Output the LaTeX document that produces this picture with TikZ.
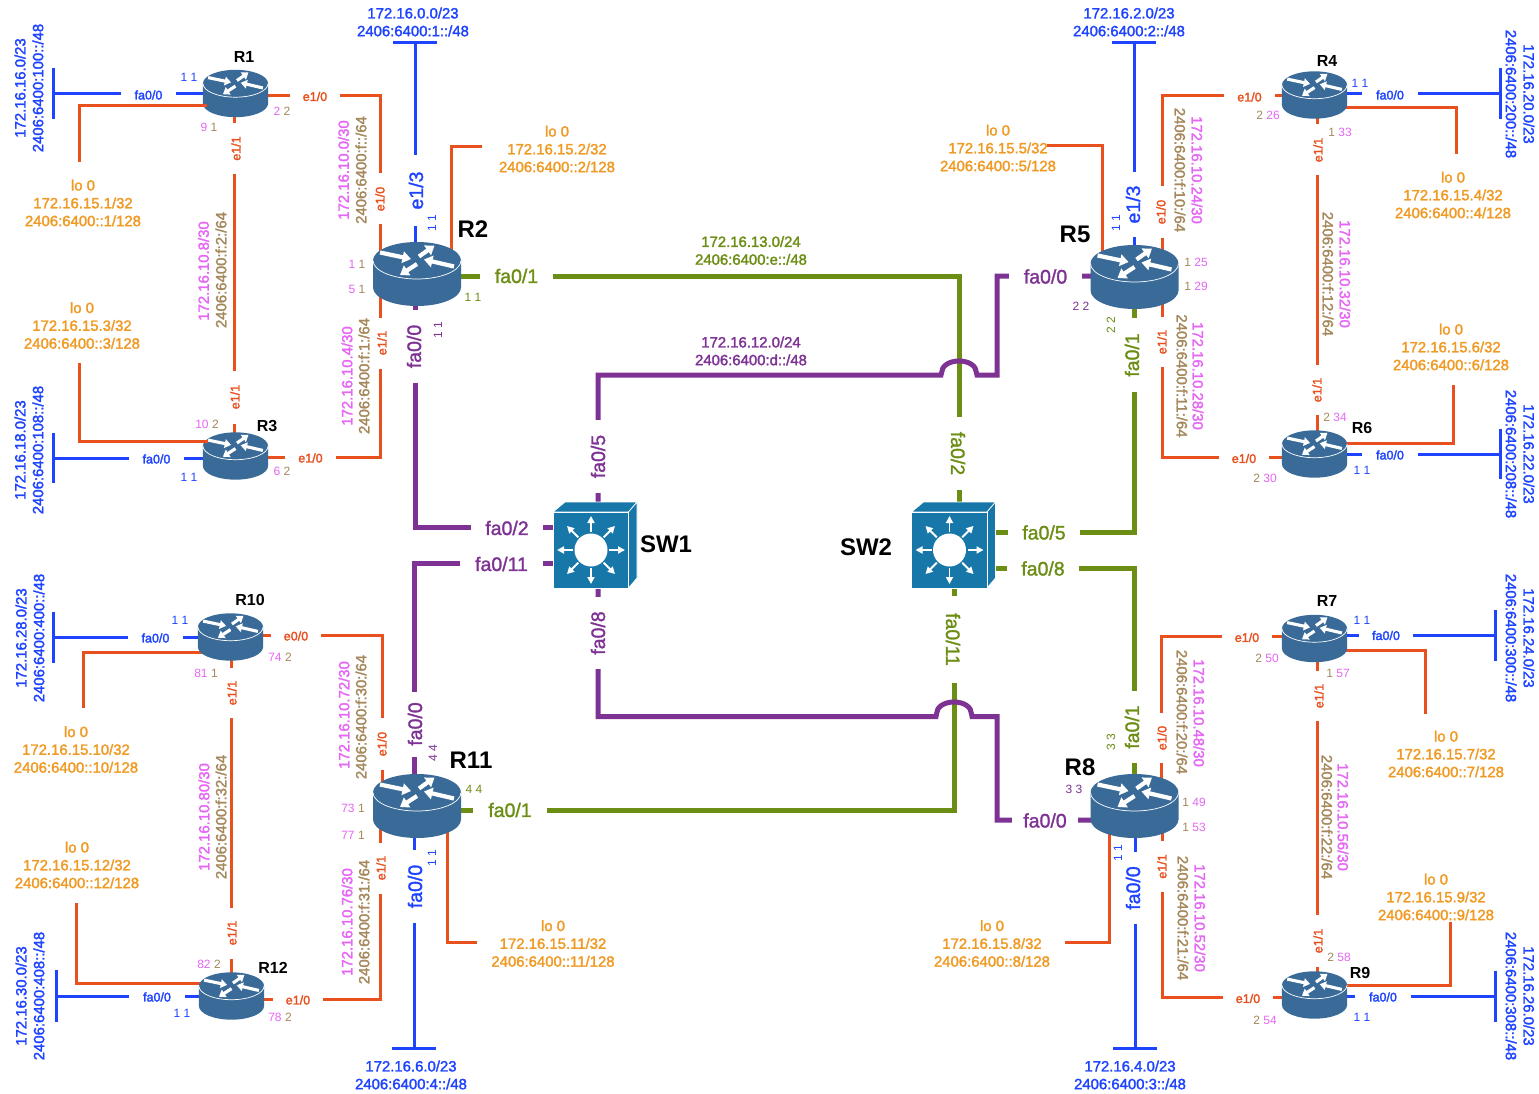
\documentclass[tikz,border=0pt]{standalone}
\usepackage{fontspec}
\usetikzlibrary{arrows.meta}
\setmainfont{Liberation Sans}
\newcommand{\medf}{\special{pdf:code 2 Tr 0.28 w}}
\definecolor{cOr}{HTML}{E8501E}
\definecolor{cLo}{HTML}{F09A24}
\definecolor{cBl}{HTML}{1E44FF}
\definecolor{cGr}{HTML}{6C8E14}
\definecolor{cPu}{HTML}{7D3294}
\definecolor{cPk}{HTML}{E667F5}
\definecolor{cBr}{HTML}{A5885C}
\definecolor{cRt}{HTML}{3A6B98}
\definecolor{cSw}{HTML}{1777A8}
\newcounter{nn}
\newcommand{\pk}[1]{\textcolor{cPk}{#1}}
\newcommand{\br}[1]{\textcolor{cBr}{#1}}
\newcommand{\Tx}[3][]{\stepcounter{nn}\node[txt,#1] (t\arabic{nn}) at (#2) {#3};}
\newcommand{\Nm}[3][]{\stepcounter{nn}\node[num,#1] (t\arabic{nn}) at (#2) {#3};}
\newcommand{\Gp}[4][]{\stepcounter{nn}\node[gapsmall,minimum width=#3pt,#1] (t\arabic{nn}) at (#2) {#4};}
\newcommand{\Hd}[3][]{\stepcounter{nn}\node[headsmall,#1] (t\arabic{nn}) at (#2) {#3};}
\tikzset{
  txt/.style={inner sep=0pt,align=center,font=\medf\fontsize{14.9}{17.8}\selectfont},
  num/.style={inner sep=0pt,font=\fontsize{12}{13}\selectfont},
  gapsmall/.style={inner sep=0pt,fill=white,minimum height=11pt,font=\medf\fontsize{12.5}{15}\selectfont},
  gapbig/.style={minimum height=15pt,font=\medf\fontsize{19.5}{22}\selectfont},
  headsmall/.style={inner sep=0pt,font=\bfseries\fontsize{16}{18}\selectfont},
  headbig/.style={font=\bfseries\fontsize{24}{26}\selectfont},
  eth/.style={draw=cOr,line width=3pt},
  lan/.style={draw=cBl,line width=3pt},
  gtrunk/.style={draw=cGr,line width=5pt},
  ptrunk/.style={draw=cPu,line width=5pt},
  routerbox/.style={inner sep=0pt,minimum width=65pt,minimum height=47pt},
  bigrouterbox/.style={inner sep=0pt,minimum width=88pt,minimum height=64pt},
  switchbox/.style={inner sep=0pt,minimum width=76pt,minimum height=76pt},
}
\begin{document}
\begin{tikzpicture}[x=1pt,y=-1pt]
\path[use as bounding box,fill=white] (0,0) rectangle (1539,1094);
% devices
\node[routerbox] (R1) at (235.5,93.5) {};
\node[bigrouterbox] (R2) at (417,274) {};
\node[routerbox] (R3) at (235.5,456) {};
\node[routerbox] (R4) at (1314.5,95) {};
\node[bigrouterbox] (R5) at (1134.5,277) {};
\node[routerbox] (R6) at (1314.5,454) {};
\node[routerbox] (R7) at (1314.5,638.5) {};
\node[bigrouterbox] (R8) at (1134.5,806) {};
\node[routerbox] (R9) at (1314.5,995) {};
\node[routerbox] (R10) at (230.5,637) {};
\node[bigrouterbox] (R11) at (417,806) {};
\node[routerbox] (R12) at (231.5,996) {};
\node[switchbox] (SW1) at (591,550) {};
\node[switchbox] (SW2) at (949.5,550) {};
% free ends
\coordinate (L1) at (79,162); \coordinate (L2) at (482,147);
\coordinate (L3) at (79,363); \coordinate (L4) at (1456,154);
\coordinate (L5) at (1047,146); \coordinate (L6) at (1453,385);
\coordinate (L7) at (1425,714); \coordinate (L8) at (1065,942);
\coordinate (L9) at (1450,922); \coordinate (L10) at (83,708);
\coordinate (L11) at (477,942); \coordinate (L12) at (76,903);
\coordinate (B1) at (53,93.5); \coordinate (B3) at (53,458);
\coordinate (B10) at (53,637); \coordinate (B12) at (56,996);
\coordinate (B4) at (1500,93.5); \coordinate (B6) at (1500,454);
\coordinate (B7) at (1495,635); \coordinate (B9) at (1495,996);
\coordinate (B2) at (415,43); \coordinate (B5) at (1134,43);
\coordinate (B11) at (414,1048); \coordinate (B8) at (1135,1048);
% point-to-point links
\draw[eth] ([yshift=-2.5pt]R1.center) -| ([xshift=-37pt]R2.center);
\draw[eth] ([xshift=-1.5pt]R1.center) -- ([xshift=-1.5pt]R3.center);
\draw[eth] ([xshift=-37pt]R2.center) |- ([yshift=-1pt]R3.center);
\draw[eth] ([yshift=2pt]R10.center) -| ([xshift=-35pt]R11.center);
\draw[eth] ([xshift=-37pt]R11.center) |- ([yshift=-3pt]R12.center);
\draw[eth] ([xshift=.5pt]R10.center) -- ([xshift=-.5pt]R12.center);
\draw[eth] ([yshift=-1pt]R4.center) -| ([xshift=27.5pt]R5.center);
\draw[eth] ([xshift=27.5pt]R5.center) |- ([yshift=-3.5pt]R6.center);
\draw[eth] ([xshift=2.5pt]R4.center) -- ([xshift=2.5pt]R6.center);
\draw[eth] ([yshift=2.5pt]R7.center) -| ([xshift=27pt]R8.center);
\draw[eth] ([xshift=27.5pt]R8.center) |- ([yshift=-2pt]R9.center);
\draw[eth] ([xshift=2.5pt]R7.center) -- ([xshift=2.5pt]R9.center);
% loopback stubs
\draw[eth] ([xshift=34pt]R2.center) |- (L2);
\draw[eth] ([yshift=-13pt]R4.center) -| (L4);
\draw[eth] ([xshift=-32pt]R5.center) |- (L5);
\draw[eth] ([yshift=11pt]R6.center) -| (L6);
\draw[eth] ([yshift=-11.5pt]R7.center) -| (L7);
\draw[eth] ([xshift=-25.5pt]R8.center) |- (L8);
\draw[eth] ([yshift=10pt]R9.center) -| (L9);
\draw[eth] ([yshift=-15pt]R10.center) -| (L10);
\draw[eth] ([xshift=30pt]R11.center) |- (L11);
\draw[eth] ([yshift=13pt]R12.center) -| (L12);
% LANs
\draw[lan] (R1.center) -- (B1); \draw[lan] ([yshift=25.5pt]B1) -- ([yshift=-25.5pt]B1);
\draw[lan] ([yshift=-2pt]R3.center) -- (B3); \draw[lan] ([yshift=25pt]B3) -- ([yshift=-25pt]B3);
\draw[lan] (R10.center) -- (B10); \draw[lan] ([yshift=25.5pt]B10) -- ([yshift=-25.5pt]B10);
\draw[lan] (R12.center) -- (B12); \draw[lan] ([yshift=26pt]B12) -- ([yshift=-26pt]B12);
\draw[lan] ([yshift=1.5pt]R4.center) -- (B4); \draw[lan] ([yshift=25.5pt]B4) -- ([yshift=-25.5pt]B4);
\draw[lan] (R6.center) -- (B6); \draw[lan] ([yshift=25pt]B6) -- ([yshift=-25pt]B6);
\draw[lan] ([yshift=3.5pt]R7.center) -- (B7); \draw[lan] ([yshift=25.5pt]B7) -- ([yshift=-25.5pt]B7);
\draw[lan] ([yshift=-1pt]R9.center) -- (B9); \draw[lan] ([yshift=25.5pt]B9) -- ([yshift=-25.5pt]B9);
\draw[lan] ([xshift=-2pt]R2.center) -- (B2); \draw[lan] ([xshift=-22pt]B2) -- ([xshift=22pt]B2);
\draw[lan] ([xshift=-.5pt]R5.center) -- (B5); \draw[lan] ([xshift=-22pt]B5) -- ([xshift=22pt]B5);
\draw[lan] ([xshift=-3pt]R11.center) -- (B11); \draw[lan] ([xshift=-22pt]B11) -- ([xshift=22pt]B11);
\draw[lan] ([xshift=.5pt]R8.center) -- (B8); \draw[lan] ([xshift=-22pt]B8) -- ([xshift=22pt]B8);
% trunks
\draw[gtrunk] ([yshift=-2pt]R2.center) -| ([xshift=9.5pt]SW2.center);
\draw[gtrunk] ([xshift=4.5pt]SW2.center) |- ([yshift=-4pt]R11.center);
\draw[gtrunk] ([yshift=18pt]SW2.center) -| (R5.center);
\draw[gtrunk] ([yshift=-18pt]SW2.center) -| (R8.center);
\draw[ptrunk] ([xshift=-2pt]R2.center) |- ([yshift=23pt]SW1.center);
\draw[ptrunk] ([xshift=-3pt]R11.center) |- ([yshift=-13pt]SW1.center);
\draw[ptrunk] ([xshift=7pt]SW1.center) |- (941,375) -- (941.5,373) .. controls (941.5,366) and (949,361) .. (959,361) .. controls (969,361) and (976.5,366) .. (976.5,373) -- (977,375) -- (997,375) -- (997,276) -- ([yshift=1pt]R5.center);
\draw[ptrunk] ([xshift=7pt]SW1.center) |- (936,716.5) -- (936.5,714) .. controls (936.5,707) and (944,702) .. (954,702) .. controls (964,702) and (971.5,707) .. (971.5,714) -- (972,716.5) -- (997,716.5) -- (997,820) -- ([yshift=-14pt]R8.center);
% labels that break the links: small orange
\begin{scope}[every node/.append style={text=cOr}]
\Gp{315,96.5}{50}{e1/0}
\Gp[rotate=90]{380,199}{51}{e1/0}
\Gp[rotate=90]{236,148.5}{51}{e1/1}
\Gp[rotate=90]{235,397}{53}{e1/1}
\Gp[rotate=90]{382,343}{51}{e1/1}
\Gp{310.5,458}{51}{e1/0}
\Gp{296,636}{50}{e0/0}
\Gp[rotate=90]{382,744}{52}{e1/0}
\Gp[rotate=90]{381,868}{51}{e1/1}
\Gp{298,1000}{50}{e1/0}
\Gp[rotate=90]{232,693}{50}{e1/1}
\Gp[rotate=90]{232,933}{51}{e1/1}
\Gp{1249.5,97}{51}{e1/0}
\Gp[rotate=90]{1161,212}{51}{e1/0}
\Gp[rotate=90]{1162,342}{50}{e1/1}
\Gp{1244,458.5}{50}{e1/0}
\Gp[rotate=90]{1318,150}{51}{e1/1}
\Gp[rotate=90]{1317,390}{50}{e1/1}
\Gp{1247,637.5}{50}{e1/0}
\Gp[rotate=90]{1162,738}{50}{e1/0}
\Gp[rotate=90]{1162,866.5}{51}{e1/1}
\Gp{1248,998.5}{50}{e1/0}
\Gp[rotate=90]{1319,696}{50}{e1/1}
\Gp[rotate=90]{1318,941}{52}{e1/1}
\end{scope}
% labels that break the links: blue
\begin{scope}[every node/.append style={text=cBl}]
\Gp{148.5,95}{55}{fa0/0}
\Gp{156.5,459}{55}{fa0/0}
\Gp{155.5,638}{55}{fa0/0}
\Gp{157,997}{56}{fa0/0}
\Gp{1390,95}{56}{fa0/0}
\Gp{1390,455}{56}{fa0/0}
\Gp{1386,635.5}{54}{fa0/0}
\Gp{1383,997}{56}{fa0/0}
\Gp[gapbig,rotate=90]{416,190.5}{71}{e1/3}
\Gp[gapbig,rotate=90]{1133,204.5}{65}{e1/3}
\Gp[gapbig,rotate=90]{415,886.5}{73}{fa0/0}
\Gp[gapbig,rotate=90]{1133,888}{72}{fa0/0}
\end{scope}
% labels that break the links: green
\begin{scope}[every node/.append style={text=cGr}]
\Gp[gapbig]{516.5,276}{73}{fa0/1}
\Gp[gapbig,rotate=-90]{958,453.5}{73}{fa0/2}
\Gp[gapbig,rotate=90]{1132,355}{74}{fa0/1}
\Gp[gapbig]{1044,532.5}{72}{fa0/5}
\Gp[gapbig]{1043,568.5}{72}{fa0/8}
\Gp[gapbig,rotate=90]{1132,727}{72}{fa0/1}
\Gp[gapbig,rotate=-90]{953,639.5}{87}{fa0/11}
\Gp[gapbig]{510,810}{74}{fa0/1}
\end{scope}
% labels that break the links: purple
\begin{scope}[every node/.append style={text=cPu}]
\Gp[gapbig,rotate=90]{414,346.5}{73}{fa0/0}
\Gp[gapbig]{507,528}{72}{fa0/2}
\Gp[gapbig]{501.5,564}{83}{fa0/11}
\Gp[gapbig,rotate=90]{598,456.5}{73}{fa0/5}
\Gp[gapbig,rotate=90]{598,633}{72}{fa0/8}
\Gp[gapbig]{1045.5,276.5}{73}{fa0/0}
\Gp[gapbig,rotate=90]{415,724}{65}{fa0/0}
\Gp[gapbig]{1045,820.5}{66}{fa0/0}
\end{scope}
% router drawings
\foreach \n/\s in {R1/0.74,R2/1,R3/0.74,R4/0.74,R5/1,R6/0.74,R7/0.74,R8/1,R9/0.74,R10/0.74,R11/1,R12/0.74}{
\begin{scope}[shift={(\n.center)},x=\s pt,y=-\s pt]
\fill[cRt] (-44,-13.5) .. controls (-44,-23.7) and (-24.3,-32) .. (0,-32) .. controls (24.3,-32) and (44,-23.7) .. (44,-13.5) -- (44,13.5) .. controls (44,23.7) and (24.3,32) .. (0,32) .. controls (-24.3,32) and (-44,23.7) .. (-44,13.5) -- cycle;
\draw[white,line width=.7pt] (44,-13.5) .. controls (44,-3.3) and (24.3,5) .. (0,5) .. controls (-24.3,5) and (-44,-3.3) .. (-44,-13.5);
\foreach \ax/\ay/\bx/\by in {-37/-21.5/-6/-15,2/-17.5/17.5/-28.5,37/-7.5/7/-14.5,0/-10/-17/1}
  \draw[white,line width=\s*4.2pt,-{Triangle[length=8.5pt,width=11.5pt,scale=\s]}] (\ax,\ay) -- (\bx,\by);
\end{scope}}
% switch drawings
\foreach \n in {SW1,SW2}{
\begin{scope}[shift={(\n.center)}]
\filldraw[fill=cSw,draw=white,line width=.7pt] (-38,-38) -- (-26,-48) -- (46,-48) -- (37.5,-38) -- cycle;
\filldraw[fill=cSw,draw=white,line width=.7pt] (37.5,-38) -- (46,-48) -- (46,28) -- (37.5,38) -- cycle;
\filldraw[fill=cSw,draw=white,line width=.7pt] (-38,-38) rectangle (37.5,38);
\fill[white] (0,0) circle[radius=16.5pt];
\foreach \a in {0,45,...,315}
  \draw[white,line width=1.8pt,-{Triangle[length=7pt,width=7pt]}] (\a:18) -- (\a:34);
\end{scope}}
% loopback stubs that lie over the router
\draw[eth] ([xshift=-28.5pt,yshift=-12pt]R1.center) -| (L1);
\draw[eth] ([xshift=-27.5pt,yshift=14.5pt]R3.center) -| (L3);
% device names
\Hd{244,57}{R1} \Hd{267,426}{R3} \Hd{250,600}{R10} \Hd{273,968}{R12}
\Hd{1327,61}{R4} \Hd{1362,428}{R6} \Hd{1327,601}{R7} \Hd{1360,973}{R9}
\Hd[headbig]{473,229}{R2} \Hd[headbig]{1075,234}{R5} \Hd[headbig]{1080,767}{R8} \Hd[headbig]{471,760}{R11}
\Hd[headbig]{666,544}{SW1} \Hd[headbig]{866,547}{SW2}
% IPv4 subnets and IPv6 subnets of links
\begin{scope}[every node/.append style={text=cPk}]
\Tx[rotate=90]{203.5,271}{172.16.10.8/30}
\Tx[rotate=90]{343.5,170}{172.16.10.0/30}
\Tx[rotate=90]{347,376}{172.16.10.4/30}
\Tx[rotate=90]{344,715}{172.16.10.72/30}
\Tx[rotate=90]{347,922}{172.16.10.76/30}
\Tx[rotate=90]{204,817}{172.16.10.80/30}
\Tx[rotate=-90]{1197,170}{172.16.10.24/30}
\Tx[rotate=-90]{1198,376}{172.16.10.28/30}
\Tx[rotate=-90]{1345,274}{172.16.10.32/30}
\Tx[rotate=-90]{1199,713}{172.16.10.48/30}
\Tx[rotate=-90]{1200,918}{172.16.10.52/30}
\Tx[rotate=-90]{1343,817}{172.16.10.56/30}
\end{scope}
\begin{scope}[every node/.append style={text=cBr}]
\Tx[rotate=90]{221,270}{2406:6400:f:2:/64}
\Tx[rotate=90]{361,170}{2406:6400:f::/64}
\Tx[rotate=90]{364,376}{2406:6400:f:1:/64}
\Tx[rotate=90]{361,717}{2406:6400:f:30:/64}
\Tx[rotate=90]{364,922}{2406:6400:f:31:/64}
\Tx[rotate=90]{221,817}{2406:6400:f:32:/64}
\Tx[rotate=-90]{1180,170}{2406:6400:f:10:/64}
\Tx[rotate=-90]{1182,376}{2406:6400:f:11:/64}
\Tx[rotate=-90]{1328,274}{2406:6400:f:12:/64}
\Tx[rotate=-90]{1182,712}{2406:6400:f:20:/64}
\Tx[rotate=-90]{1183,918}{2406:6400:f:21:/64}
\Tx[rotate=-90]{1327,817}{2406:6400:f:22:/64}
\end{scope}
% LAN subnets
\begin{scope}[every node/.append style={text=cBl}]
\Tx{413,22}{172.16.0.0/23\\2406:6400:1::/48}
\Tx{1129,22}{172.16.2.0/23\\2406:6400:2::/48}
\Tx{411,1075}{172.16.6.0/23\\2406:6400:4::/48}
\Tx{1130,1075}{172.16.4.0/23\\2406:6400:3::/48}
\Tx[rotate=90]{29,88}{172.16.16.0/23\\2406:6400:100::/48}
\Tx[rotate=90]{29,450}{172.16.18.0/23\\2406:6400:108::/48}
\Tx[rotate=90]{30,638}{172.16.28.0/23\\2406:6400:400::/48}
\Tx[rotate=90]{30,996}{172.16.30.0/23\\2406:6400:408::/48}
\Tx[rotate=-90]{1520,94}{172.16.20.0/23\\2406:6400:200::/48}
\Tx[rotate=-90]{1520,454}{172.16.22.0/23\\2406:6400:208::/48}
\Tx[rotate=-90]{1520,638}{172.16.24.0/23\\2406:6400:300::/48}
\Tx[rotate=-90]{1520,996}{172.16.26.0/23\\2406:6400:308::/48}
\end{scope}
% trunk subnets
\Tx[text=cGr]{751,250.5}{172.16.13.0/24\\2406:6400:e::/48}
\Tx[text=cPu]{751,351}{172.16.12.0/24\\2406:6400:d::/48}
% loopbacks
\begin{scope}[every node/.append style={text=cLo}]
\Tx{83,203}{lo 0\\172.16.15.1/32\\2406:6400::1/128}
\Tx{557,149}{lo 0\\172.16.15.2/32\\2406:6400::2/128}
\Tx{82,325.5}{lo 0\\172.16.15.3/32\\2406:6400::3/128}
\Tx{1453,195}{lo 0\\172.16.15.4/32\\2406:6400::4/128}
\Tx{998,148}{lo 0\\172.16.15.5/32\\2406:6400::5/128}
\Tx{1451,347}{lo 0\\172.16.15.6/32\\2406:6400::6/128}
\Tx{1446,754}{lo 0\\172.16.15.7/32\\2406:6400::7/128}
\Tx{992,943.5}{lo 0\\172.16.15.8/32\\2406:6400::8/128}
\Tx{1436,897}{lo 0\\172.16.15.9/32\\2406:6400::9/128}
\Tx{76,749.5}{lo 0\\172.16.15.10/32\\2406:6400::10/128}
\Tx{553,943.5}{lo 0\\172.16.15.11/32\\2406:6400::11/128}
\Tx{77,865}{lo 0\\172.16.15.12/32\\2406:6400::12/128}
\end{scope}
% interface host numbers
\Nm[text=cBl]{189,77}{1 1} \Nm{282,111}{\pk{2} \br{2}} \Nm{209,127}{\pk{9} \br{1}}
\Nm[text=cBl,rotate=90]{432,223}{1 1} \Nm{357,264}{\pk{1} \br{1}} \Nm{357,289}{\pk{5} \br{1}}
\Nm[text=cGr]{473,297}{1 1} \Nm[text=cPu,rotate=90]{438,330}{1 1}
\Nm{207,424}{\pk{10} \br{2}} \Nm{282,471}{\pk{6} \br{2}} \Nm[text=cBl]{189,477}{1 1}
\Nm[text=cBl]{1360,83}{1 1} \Nm{1268,115}{\br{2} \pk{26}} \Nm{1340,132}{\br{1} \pk{33}}
\Nm[text=cBl,rotate=90]{1116,223}{1 1} \Nm{1196,262}{\br{1} \pk{25}} \Nm{1196,286}{\br{1} \pk{29}}
\Nm[text=cPu]{1081,306}{2 2} \Nm[text=cGr,rotate=90]{1111,325}{2 2}
\Nm{1335,417}{\br{2} \pk{34}} \Nm[text=cBl]{1362,470}{1 1} \Nm{1265,478}{\br{2} \pk{30}}
\Nm[text=cBl]{1362,620}{1 1} \Nm{1267,658}{\br{2} \pk{50}} \Nm{1338,673}{\br{1} \pk{57}}
\Nm[text=cGr,rotate=90]{1111,742}{3 3} \Nm[text=cPu]{1074,789}{3 3}
\Nm{1194,802}{\br{1} \pk{49}} \Nm{1194,827}{\br{1} \pk{53}} \Nm[text=cBl,rotate=90]{1118,853}{1 1}
\Nm{1339,957}{\br{2} \pk{58}} \Nm[text=cBl]{1362,1017}{1 1} \Nm{1265,1020}{\br{2} \pk{54}}
\Nm[text=cBl]{180,620}{1 1} \Nm{280,657}{\pk{74} \br{2}} \Nm{206,673}{\pk{81} \br{1}}
\Nm[text=cGr]{474,789}{4 4} \Nm[text=cPu,rotate=90]{433,753}{4 4}
\Nm{353,808}{\pk{73} \br{1}} \Nm{353,835}{\pk{77} \br{1}} \Nm[text=cBl,rotate=90]{432,858}{1 1}
\Nm{209,964}{\pk{82} \br{2}} \Nm[text=cBl]{182,1013}{1 1} \Nm{280,1017}{\pk{78} \br{2}}
\end{tikzpicture}
\end{document}
